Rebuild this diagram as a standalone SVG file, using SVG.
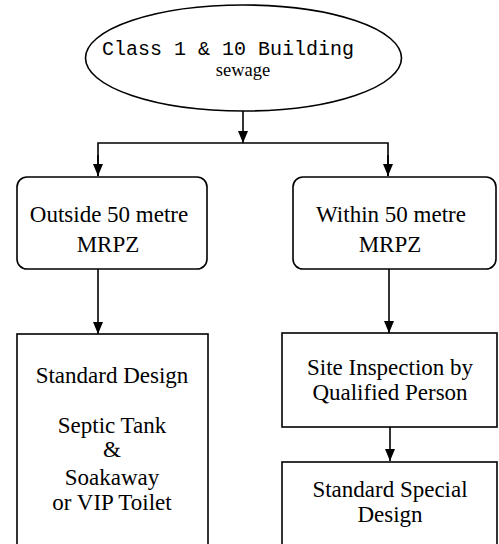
<svg xmlns="http://www.w3.org/2000/svg" width="499" height="544" viewBox="0 0 499 544">
<style>
.shape{fill:#fff;stroke:#000;stroke-width:1.6}
.t{font-family:"Liberation Serif","Times New Roman",serif;font-size:23px;fill:#000;text-anchor:middle}
.mono{font-family:"Liberation Mono","Courier New",monospace;font-size:20px;fill:#000;text-anchor:middle}
.small{font-family:"Liberation Serif","Times New Roman",serif;font-size:18.5px;fill:#000;text-anchor:middle}
.c{fill:none;stroke:#000;stroke-width:1.6}
</style>
<defs>
<marker id="ah" markerWidth="12" markerHeight="12" viewBox="0 0 12 12" refX="12" refY="6" orient="auto" markerUnits="userSpaceOnUse">
<path d="M0,1 L12,6 L0,11 Z" fill="#000"/>
</marker>
</defs>
<rect width="499" height="544" fill="#fff"/>
<g id="connectors">
<line class="c" x1="243" y1="111" x2="243" y2="143" marker-end="url(#ah)"/>
<polyline class="c" points="98,176 98,143 388,143 388,176"/>
<line class="c" x1="98" y1="155" x2="98" y2="176" marker-end="url(#ah)"/>
<line class="c" x1="388" y1="155" x2="388" y2="176" marker-end="url(#ah)"/>
<line class="c" x1="98" y1="269" x2="98" y2="334" marker-end="url(#ah)"/>
<line class="c" x1="389" y1="269" x2="389" y2="333" marker-end="url(#ah)"/>
<line class="c" x1="390" y1="427" x2="390" y2="461" marker-end="url(#ah)"/>
</g>
<g id="node-class">
<ellipse class="shape" cx="243.5" cy="58" rx="158" ry="53"/>
<text class="mono" x="228" y="55">Class 1 &amp; 10 Building</text>
<text class="small" x="243" y="76">sewage</text>
</g>
<g id="node-outside">
<rect class="shape" x="17" y="177" width="190" height="92" rx="10"/>
<text class="t" x="109" y="222">Outside 50 metre</text>
<text class="t" x="108" y="252">MRPZ</text>
</g>
<g id="node-within">
<rect class="shape" x="293" y="177" width="203" height="92" rx="10"/>
<text class="t" x="391" y="222">Within 50 metre</text>
<text class="t" x="390" y="252">MRPZ</text>
</g>
<g id="node-standard">
<rect class="shape" x="17" y="334" width="191" height="220"/>
<text class="t" x="112" y="383">Standard Design</text>
<text class="t" x="112" y="433">Septic Tank</text>
<text class="t" x="112" y="457">&amp;</text>
<text class="t" x="112" y="485">Soakaway</text>
<text class="t" x="112" y="510">or VIP Toilet</text>
</g>
<g id="node-inspection">
<rect class="shape" x="282" y="333" width="215" height="94"/>
<text class="t" x="390" y="375">Site Inspection by</text>
<text class="t" x="390" y="400">Qualified Person</text>
</g>
<g id="node-special">
<rect class="shape" x="282" y="462" width="215" height="92"/>
<text class="t" x="390" y="497">Standard Special</text>
<text class="t" x="390" y="522">Design</text>
</g>
</svg>
